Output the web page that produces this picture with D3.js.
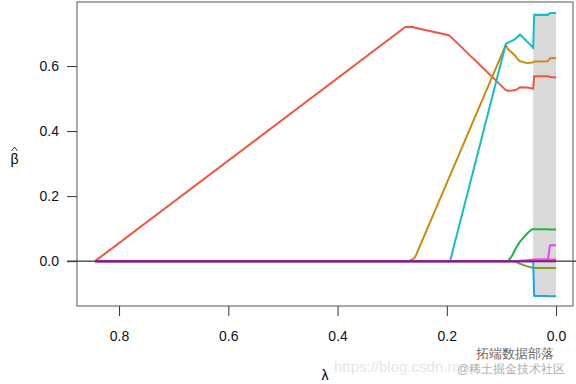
<!DOCTYPE html>
<html>
<head>
<meta charset="utf-8">
<script src="https://cdn.jsdelivr.net/npm/d3@7"></script>
<style>
  body { margin: 0; background: #fff; }
  text { font-family: "Liberation Sans", Arial, sans-serif; }
</style>
</head>
<body>
<svg width="576" height="384"></svg>
<script>
// lambda grid (x values, decreasing to the right)
const lambda = [0.844, 0.276, 0.271, 0.262, 0.258, 0.196, 0.194, 0.092, 0.088, 0.080, 0.075, 0.070, 0.066, 0.053, 0.044, 0.042, 0.040, 0.015, 0.011, 0.0]

// coefficient paths, one value per lambda
const red     = [0, 0.720, 0.720, 0.720, 0.718, 0.695, 0.692, 0.526, 0.524, 0.525, 0.526, 0.530, 0.535, 0.534, 0.531, 0.530, 0.569, 0.569, 0.566, 0.565]
const golden  = [0, 0, 0, 0.006, 0.012, 0.256, 0.264, 0.665, 0.652, 0.640, 0.632, 0.620, 0.615, 0.609, 0.611, 0.612, 0.614, 0.615, 0.624, 0.625]
const cyan    = [0, 0, 0, 0, 0, 0, 0, 0.668, 0.672, 0.678, 0.683, 0.690, 0.697, 0.675, 0.660, 0.655, 0.757, 0.757, 0.763, 0.763]
const green   = [0, 0, 0, 0, 0, 0, 0, 0, 0, 0.018, 0.035, 0.050, 0.060, 0.085, 0.098, 0.098, 0.098, 0.098, 0.097, 0.097]
const olive   = [0, 0, 0, 0, 0, 0, 0, 0, 0, 0, -0.002, -0.005, -0.008, -0.016, -0.020, -0.021, -0.021, -0.021, -0.021, -0.021]
const blue    = [0, 0, 0, 0, 0, 0, 0, 0, 0, 0, 0, 0, 0, 0, 0, 0, -0.107, -0.107, -0.108, -0.108]
const magenta = [0, 0, 0, 0, 0, 0, 0, 0, 0, 0, 0, 0, 0, 0, 0, 0, 0.004, 0.004, 0.049, 0.049]
const pink    = [0, 0, 0, 0, 0, 0, 0, 0, 0, 0, 0, 0, 0.001, 0.003, 0.004, 0.005, 0.005, 0.005, 0.005, 0.005]
const purple  = [0, 0, 0, 0, 0, 0, 0, 0, 0, 0, 0, 0, 0, 0, 0, 0, 0, 0, 0, 0]

const series = [
    { name: "red", values: red, color: "#F0553F" },
    { name: "golden", values: golden, color: "#C98C0C" },
    { name: "olive", values: olive, color: "#76A21E" },
    { name: "green", values: green, color: "#1DB540" },
    { name: "cyan", values: cyan, color: "#14BCC6" },
    { name: "blue", values: blue, color: "#1AA7F2" },
    { name: "magenta", values: magenta, color: "#DD4AF2" },
    { name: "pink", values: pink, color: "#FF45C8" },
    { name: "purple", values: purple, color: "#85158E" },
]

// shaded band (lambda range and coefficient range)
const band = { lambda: [0.042, 0.0], beta: [-0.110, 0.763] }

const xTicks = [0.8, 0.6, 0.4, 0.2, 0.0]
const yTicks = [0.0, 0.2, 0.4, 0.6]

const dims = { left: 77, right: 573, top: 2, bottom: 306 }

const svg = d3.select("svg")
const x = d3.scaleLinear().domain([0.877, -0.031]).range([dims.left, dims.right])
const y = d3.scaleLinear().domain([-0.138, 0.797]).range([dims.bottom, dims.top])

// shaded region
svg.append("rect")
    .attr("x", x(band.lambda[0]))
    .attr("y", y(band.beta[1]))
    .attr("width", x(band.lambda[1]) - x(band.lambda[0]))
    .attr("height", y(band.beta[0]) - y(band.beta[1]))
    .attr("fill", "#d9d9d9")

// zero line
svg.append("line")
    .attr("x1", 67).attr("x2", 576)
    .attr("y1", y(0)).attr("y2", y(0))
    .attr("stroke", "black")
    .attr("stroke-width", 1)

const line = d3.line()
    .x((d, i) => x(lambda[i]))
    .y(d => y(d))

svg.append("g").selectAll("path").data(series).enter().append("path")
    .attr("d", d => line(d.values))
    .attr("fill", "none")
    .attr("stroke", d => d.color)
    .attr("stroke-width", 2)
    .attr("stroke-linejoin", "round")

// frame
svg.append("rect")
    .attr("x", dims.left).attr("y", dims.top)
    .attr("width", dims.right - dims.left)
    .attr("height", dims.bottom - dims.top)
    .attr("fill", "none")
    .attr("stroke", "#555")
    .attr("stroke-width", 1)

// axes
const xAxis = svg.append("g")
    .attr("transform", `translate(0,${dims.bottom})`)
    .call(d3.axisBottom(x).tickValues(xTicks).tickFormat(d3.format(".1f")).tickSize(10).tickPadding(15))
xAxis.select(".domain").remove()

const yAxis = svg.append("g")
    .attr("transform", `translate(${dims.left},0)`)
    .call(d3.axisLeft(y).tickValues(yTicks).tickFormat(d3.format(".1f")).tickSize(10).tickPadding(8))
yAxis.select(".domain").remove()

svg.selectAll(".tick text")
    .attr("font-size", 14)
    .attr("font-family", "Liberation Sans, Arial, sans-serif")
    .attr("fill", "#111")
svg.selectAll(".tick line").attr("stroke", "#333")

// axis titles
svg.append("text")
    .attr("x", (dims.left + dims.right) / 2)
    .attr("y", 380)
    .attr("text-anchor", "middle")
    .attr("font-size", 14)
    .text("λ")

// beta with a small hat mark above it
svg.append("text")
    .attr("x", 14.5)
    .attr("y", 164)
    .attr("text-anchor", "middle")
    .attr("font-size", 14)
    .text("β")
svg.append("path")
    .attr("d", "M11.5,151 L14.5,147 L17.5,151")
    .attr("fill", "none")
    .attr("stroke", "#222")
    .attr("stroke-width", 0.9)

// watermark
svg.append("text")
    .attr("x", 334).attr("y", 372)
    .attr("font-size", 15)
    .attr("fill", "#e6e6e6")
    .text("https://blog.csdn.n")
svg.append("text")
    .attr("x", 476).attr("y", 358)
    .attr("font-size", 13)
    .attr("font-family", "Noto Sans CJK SC")
    .attr("fill", "#666")
    .text("拓端数据部落")
svg.append("text")
    .attr("x", 457).attr("y", 373)
    .attr("font-size", 12)
    .attr("font-family", "Noto Sans CJK SC")
    .attr("fill", "#999")
    .attr("opacity", 0.8)
    .text("@稀土掘金技术社区")
</script>
</body>
</html>
